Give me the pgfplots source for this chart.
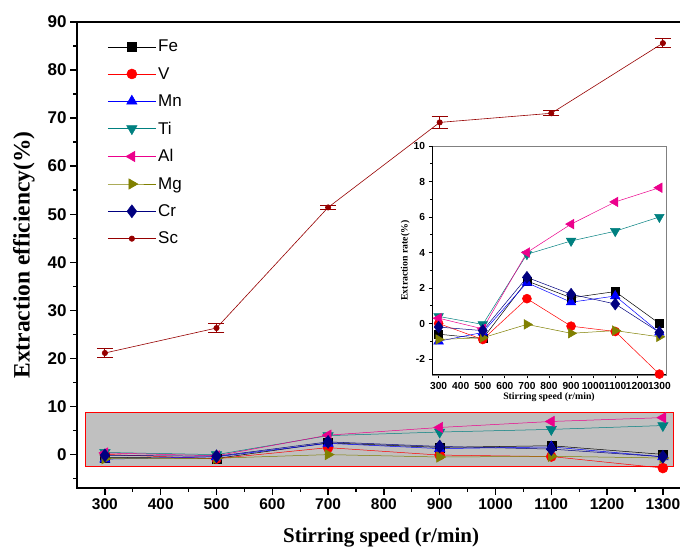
\documentclass[border=0pt]{standalone}
\usepackage{fontspec}
\setmainfont{Liberation Serif}
\setsansfont{Liberation Sans}
\usepackage{pgfplots}
\usepackage{pgfplotstable}
\pgfplotsset{compat=1.18}
\definecolor{olivec}{RGB}{128,128,0}
\definecolor{tealc}{RGB}{0,128,128}
\definecolor{navyc}{RGB}{0,0,128}
\definecolor{darkredc}{RGB}{150,0,0}
\definecolor{grayfill}{RGB}{192,192,192}

\pgfplotstableread{
speed Fe V Mn Ti Al Mg Cr
300 -0.6 0.0 -1.0 0.4 0.3 -0.9 -0.2
500 -0.85 -0.9 -0.5 -0.05 -0.3 -0.8 -0.4
700 2.4 1.4 2.3 3.9 4.0 -0.05 2.6
900 1.45 -0.15 1.2 4.65 5.6 -0.55 1.65
1100 1.8 -0.45 1.55 5.2 6.85 -0.4 1.1
1300 0.0 -2.85 -0.5 6.0 7.65 -0.75 -0.5
}\dataA

\pgfplotstableread{
speed Sc err
300 21.1 1.0
500 26.3 1.0
700 51.4 0.5
900 69.1 1.2
1100 71.0 0.5
1300 85.6 1.0
}\dataSc

\pgfplotsset{
  feS/.style={black, line width=0.5pt, mark=square*, mark size=#1, mark options={solid}},
  vS/.style={red, line width=0.5pt, mark=*, mark size=#1},
  mnS/.style={blue, line width=0.5pt, mark=triangle*, mark size=#1},
  tiS/.style={tealc, line width=0.5pt, mark=triangle*, mark size=#1, mark options={rotate=180}},
  alS/.style={magenta, line width=0.5pt, mark=triangle*, mark size=#1, mark options={rotate=90}},
  mgS/.style={olivec, line width=0.5pt, mark=triangle*, mark size=#1, mark options={rotate=-90}},
  crS/.style={navyc, line width=0.5pt, mark=diamond*, mark size=#1},
}

\begin{document}
\begin{tikzpicture}[x=1pt,y=1pt]
\useasboundingbox (0,0) rectangle (680,554);
\begin{axis}[
  at={(77pt,66pt)}, anchor=south west,
  scale only axis, width=608.2pt, height=466pt,
  xmin=250, xmax=1340, ymin=-7, ymax=90,
  xtick={300,400,...,1300}, minor xtick={350,450,...,1250},
  ytick={0,10,...,90}, minor ytick={-5,5,...,85},
  tick align=outside, xtick pos=bottom, ytick pos=left,
  major tick length=7pt, minor tick length=4pt,
  axis line style={line width=1.3pt},
  every tick/.style={black, line width=1.3pt},
  xticklabel style={font=\sffamily\bfseries\fontsize{15.5}{18}\selectfont},
  yticklabel style={font=\sffamily\bfseries\fontsize{17}{19}\selectfont},
  /pgf/number format/assume math mode=true,
  /pgf/number format/1000 sep={},
  xlabel={Stirring speed (r/min)},
  ylabel={Extraction efficiency(\%)},
  xlabel style={font=\bfseries\fontsize{21}{24}\selectfont, yshift=-12pt},
  ylabel style={font=\bfseries\fontsize{23.5}{26}\selectfont, yshift=6pt},
  legend cell align=left,
  legend style={at={(0.045,0.97)}, anchor=north west, draw=none, fill=white,
    font=\sffamily\fontsize{17}{19}\selectfont, row sep=10pt},
  legend image code/.code={\draw[mark repeat=2,mark phase=2,#1] plot coordinates {(0pt,0pt) (24pt,0pt) (48pt,0pt)};},
]
\fill[grayfill, draw=red, line width=0.8pt] (axis cs:265,-2.6) rectangle (axis cs:1318,8.8);
\addplot[feS=4.5pt] table[x=speed,y=Fe]{\dataA};
\addlegendentry{Fe}
\addplot[vS=5pt] table[x=speed,y=V]{\dataA};
\addlegendentry{V}
\addplot[mnS=6pt] table[x=speed,y=Mn]{\dataA};
\addlegendentry{Mn}
\addplot[tiS=6pt] table[x=speed,y=Ti]{\dataA};
\addlegendentry{Ti}
\addplot[alS=6pt] table[x=speed,y=Al]{\dataA};
\addlegendentry{Al}
\addplot[mgS=6pt] table[x=speed,y=Mg]{\dataA};
\addlegendentry{Mg}
\addplot[crS=6.5pt] table[x=speed,y=Cr]{\dataA};
\addlegendentry{Cr}
\addplot[darkredc, line width=0.6pt, mark=*, mark size=2.7pt,
  error bars/.cd, y dir=both, y explicit,
  error bar style={line width=1pt},
  error mark options={rotate=90, mark size=8pt, line width=1pt}]
  table[x=speed,y=Sc,y error=err]{\dataSc};
\addlegendentry{Sc}
\draw[line width=1.3pt] (rel axis cs:0,1) -- (rel axis cs:1,1);
\end{axis}

\fill[white] (432,179) rectangle (666,408);
\begin{axis}[
  at={(432pt,179pt)}, anchor=south west,
  scale only axis, width=234pt, height=229pt,
  xmin=270, xmax=1330, ymin=-2.9, ymax=10,
  xtick={300,400,...,1300},
  ytick={-2,0,...,10}, minor ytick={-1,1,...,9},
  tick align=outside, xtick pos=bottom, ytick pos=left,
  major tick length=3.5pt, minor tick length=2pt,
  axis line style={line width=0.9pt, gray},
  every tick/.style={black, line width=0.8pt},
  ticklabel style={font=\sffamily\bfseries\fontsize{10.2}{11}\selectfont},
  /pgf/number format/assume math mode=true,
  /pgf/number format/1000 sep={},
  xlabel={Stirring speed (r/min)},
  ylabel={Extraction rate(\%)},
  label style={font=\bfseries\fontsize{9.8}{11}\selectfont},
  xlabel style={yshift=3pt},
  ylabel style={yshift=-3pt},
]
\addplot[feS=4pt] table[x=speed,y=Fe]{\dataA};
\addplot[vS=4.5pt] table[x=speed,y=V]{\dataA};
\addplot[mnS=5.5pt] table[x=speed,y=Mn]{\dataA};
\addplot[tiS=5.5pt] table[x=speed,y=Ti]{\dataA};
\addplot[alS=5.5pt] table[x=speed,y=Al]{\dataA};
\addplot[mgS=5.5pt] table[x=speed,y=Mg]{\dataA};
\addplot[crS=6pt] table[x=speed,y=Cr]{\dataA};
\draw[black, line width=1pt] (rel axis cs:0,1) -- (rel axis cs:0,0) -- (rel axis cs:1,0);
\end{axis}
\end{tikzpicture}
\end{document}
